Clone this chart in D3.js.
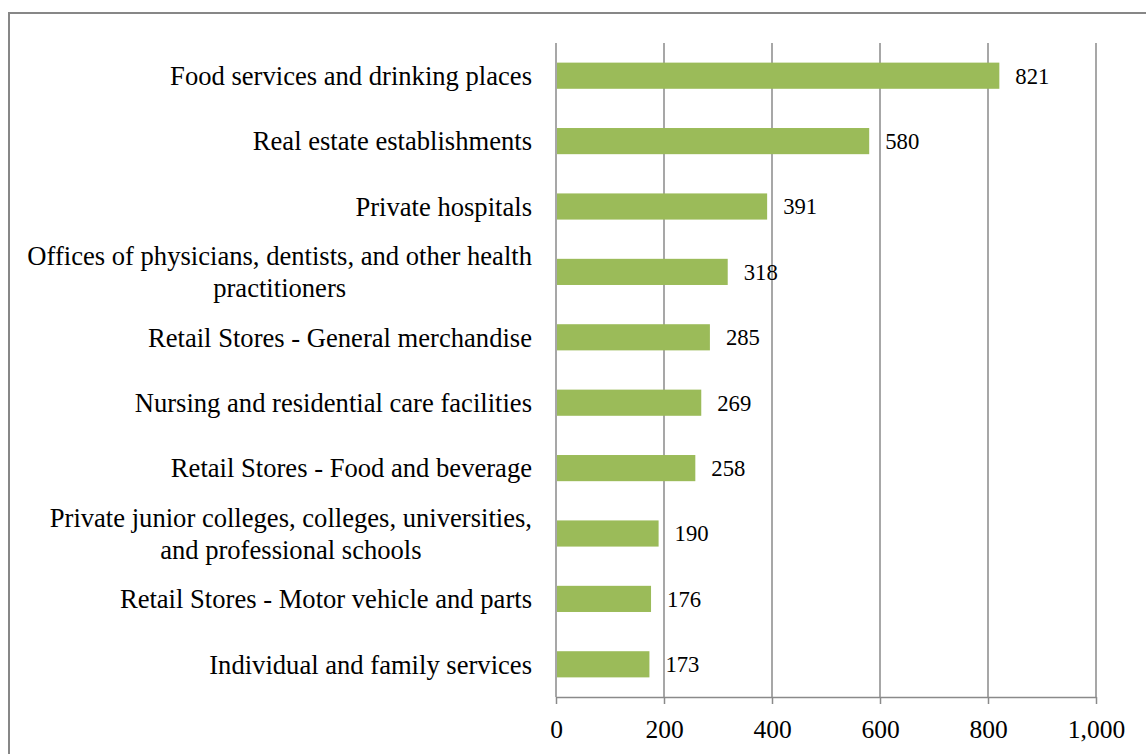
<!DOCTYPE html>
<html>
<head>
<meta charset="utf-8">
<script src="https://cdn.jsdelivr.net/npm/d3@7"></script>
<style>
  html, body { margin: 0; padding: 0; background: #fff; }
  svg { display: block; }
  text { font-family: "Liberation Serif", "Times New Roman", serif; fill: #000; }
</style>
</head>
<body>
<div id="chart"></div>
<script>
;(function() {
  "use strict";

  // Data
  // ---------------------------------------------------------------------------
  var categories = [
    ["Food services and drinking places"],
    ["Real estate establishments"],
    ["Private hospitals"],
    ["Offices of physicians, dentists, and other health", "practitioners"],
    ["Retail Stores - General merchandise"],
    ["Nursing and residential care facilities"],
    ["Retail Stores - Food and beverage"],
    ["Private junior colleges, colleges, universities,", "and professional schools"],
    ["Retail Stores - Motor vehicle and parts"],
    ["Individual and family services"]
  ];
  var values = [821, 580, 391, 318, 285, 269, 258, 190, 176, 173];
  var tickValues = [0, 200, 400, 600, 800, 1000];

  // Dimensions
  // ---------------------------------------------------------------------------
  var W = 1146, H = 754;
  var margin = { top: 43, left: 556, right: 50, bottom: 57 };
  var axisY = 697;
  var labelX = 532;

  var svg = d3.select("#chart").append("svg")
    .attr("width", W)
    .attr("height", H);

  // outer frame (right/bottom edges fall outside the picture)
  svg.append("rect")
    .attr("x", 9).attr("y", 13)
    .attr("width", W + 20).attr("height", H + 20)
    .attr("fill", "none")
    .attr("stroke", "#878787")
    .attr("stroke-width", 2);

  var x = d3.scaleLinear()
    .domain([0, 1000])
    .range([margin.left, 1096]);

  var y = d3.scaleBand()
    .domain(d3.range(categories.length))
    .range([margin.top, axisY])
    .paddingInner(0.6)
    .paddingOuter(0.3);

  var grid = "#8a8a8a";

  // Gridlines
  svg.append("g")
    .selectAll("line")
    .data(tickValues)
    .enter().append("line")
      .attr("x1", function(d) { return x(d); })
      .attr("x2", function(d) { return x(d); })
      .attr("y1", margin.top)
      .attr("y2", axisY)
      .attr("stroke", grid)
      .attr("stroke-width", 1.5);

  // Bars
  svg.append("g")
    .selectAll("rect")
    .data(values)
    .enter().append("rect")
      .attr("x", x(0) + 1)
      .attr("y", function(d, i) { return y(i); })
      .attr("width", function(d) { return x(d) - x(0) - 1; })
      .attr("height", y.bandwidth())
      .attr("fill", "#9bbb59");

  // x axis
  var axis = d3.axisBottom(x)
    .tickValues(tickValues)
    .tickSize(7)
    .tickSizeOuter(0)
    .tickPadding(16)
    .tickFormat(d3.format(","));

  var g = svg.append("g")
    .attr("transform", "translate(0," + axisY + ")")
    .call(axis);
  g.select(".domain").attr("stroke", grid).attr("stroke-width", 1.5);
  g.selectAll(".tick line").attr("stroke", grid).attr("stroke-width", 1.5);
  g.selectAll(".tick text")
    .attr("font-size", 25.5)
    .attr("font-family", "Liberation Serif")
    .attr("fill", "#000");

  // Value labels
  svg.append("g")
    .selectAll("text")
    .data(values)
    .enter().append("text")
      .attr("x", function(d) { return x(d) + 16; })
      .attr("y", function(d, i) { return y(i) + y.bandwidth() / 2; })
      .attr("dy", "0.35em")
      .attr("font-size", 22.7)
      .text(function(d) { return d; });

  // Category labels
  var labels = svg.append("g")
    .selectAll("text")
    .data(categories)
    .enter().append("text")
      .attr("text-anchor", "end")
      .attr("font-size", 26.6)
      .attr("x", labelX)
      .attr("y", function(d, i) { return y(i) + y.bandwidth() / 2; });

  labels.each(function(lines) {
    var t = d3.select(this);
    var yc = +t.attr("y");
    if (lines.length === 1) {
      t.append("tspan").attr("x", labelX).attr("y", yc).attr("dy", "0.35em").text(lines[0]);
    } else {
      // two-line labels: second line centred under the first
      var first = t.append("tspan").attr("x", labelX).attr("y", yc - 16).attr("dy", "0.35em").text(lines[0]);
      var w = first.node().getComputedTextLength();
      t.append("tspan")
        .attr("x", labelX - w / 2)
        .attr("y", yc + 16)
        .attr("dy", "0.35em")
        .attr("text-anchor", "middle")
        .text(lines[1]);
    }
  });
})();
</script>
</body>
</html>
